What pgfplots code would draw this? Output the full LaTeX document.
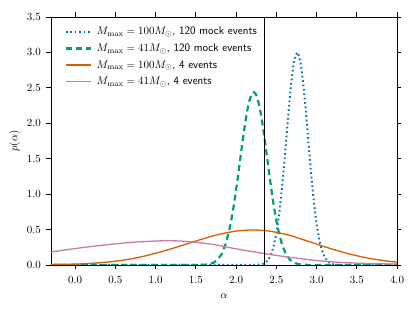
\documentclass[border=0pt]{standalone}
\usepackage{pgfplots}
\pgfplotsset{compat=1.18}
\definecolor{cbblue}{HTML}{0072B2}
\definecolor{cbgreen}{HTML}{009E73}
\definecolor{cborange}{HTML}{D55E00}
\definecolor{cbpink}{HTML}{CC79A7}
\newcommand{\fs}{\fontsize{11.3}{13.5}\selectfont}
\begin{document}
\begin{tikzpicture}
\begin{axis}[
  scale only axis,
  width=346pt, height=248pt,
  xmin=-0.3, xmax=4.0, ymin=0, ymax=3.5,
  xtick={0,0.5,...,4.0},
  ytick={0,0.5,...,3.5},
  xticklabel style={font=\fs, yshift=-3pt, /pgf/number format/.cd,fixed,fixed zerofill,precision=1},
  yticklabel style={font=\fs, xshift=-2pt, /pgf/number format/.cd,fixed,fixed zerofill,precision=1},
  tick align=outside,
  major tick length=4.5pt,
  xtick pos=both, ytick pos=both,
  tick style={black, line width=0.8pt},
  axis line style={line width=0.9pt},
  xlabel={$\alpha$}, ylabel={$p(\alpha)$},
  label style={font=\fs},
  xlabel style={yshift=-4pt},
  ylabel style={yshift=0pt},
  legend style={at={(axis description cs:0.031,0.975)}, anchor=north west,
    draw=none, fill=none, font=\fs, row sep=4.5pt, column sep=2pt,
    nodes={inner sep=1.5pt}},
  legend cell align=left,
  legend image code/.code={\draw[#1] (0pt,0pt) -- (25pt,0pt); \path (26pt,0pt);},
]
\addplot[cbblue, line width=2pt, dash pattern=on 1.6pt off 2.8pt] coordinates {
(-0.3,0) (2.0,0) (2.2,0.0004) (2.26,0.0026) (2.31,0.0098) (2.335,0.018) (2.36,0.0326)
(2.385,0.056) (2.41,0.094) (2.435,0.152) (2.46,0.236) (2.485,0.354) (2.51,0.513)
(2.535,0.717) (2.56,0.968) (2.585,1.262) (2.61,1.589) (2.635,1.929) (2.66,2.261)
(2.685,2.559) (2.71,2.795) (2.735,2.948) (2.76,3.0) (2.785,2.948) (2.81,2.795)
(2.835,2.559) (2.86,2.261) (2.885,1.929) (2.91,1.589) (2.935,1.262) (2.96,0.968)
(2.985,0.717) (3.01,0.513) (3.035,0.354) (3.06,0.236) (3.085,0.152) (3.11,0.094)
(3.135,0.056) (3.16,0.0326) (3.185,0.018) (3.21,0.0098) (3.26,0.0026) (3.32,0.0004)
(3.5,0) (4.0,0)};
\addlegendentry{$M_{\rm max}=100M_{\odot}$\textsf{, 120 mock events}}
\addplot[cbgreen, line width=2.2pt, dash pattern=on 6pt off 4pt] coordinates {
(-0.3,0) (1.3,0) (1.52,0.0005) (1.62,0.0048) (1.67,0.013) (1.72,0.0323) (1.77,0.0735)
(1.82,0.153) (1.87,0.293) (1.92,0.514) (1.945,0.660) (1.97,0.827) (1.995,1.016)
(2.02,1.221) (2.045,1.436) (2.07,1.653) (2.095,1.862) (2.12,2.052) (2.145,2.214)
(2.17,2.337) (2.195,2.414) (2.22,2.44) (2.245,2.414) (2.27,2.337) (2.295,2.214)
(2.32,2.052) (2.345,1.862) (2.37,1.653) (2.395,1.436) (2.42,1.221) (2.445,1.016)
(2.47,0.827) (2.495,0.660) (2.52,0.514) (2.57,0.293) (2.62,0.153) (2.67,0.0735)
(2.72,0.0323) (2.77,0.013) (2.82,0.0048) (2.92,0.0005) (3.2,0) (4.0,0)};
\addlegendentry{$M_{\rm max}=41M_{\odot}$\textsf{, 120 mock events}}
\addplot[cborange, line width=1.3pt, smooth] coordinates {
(-0.3,0.008) (0.0,0.013) (0.25,0.027) (0.5,0.053) (0.75,0.098) (1.0,0.165)
(1.25,0.248) (1.5,0.338) (1.75,0.422) (2.0,0.478) (2.2,0.494) (2.4,0.480)
(2.65,0.423) (2.9,0.333) (3.15,0.240) (3.4,0.158) (3.65,0.095) (3.9,0.052) (4.0,0.039)};
\addlegendentry{$M_{\rm max}=100M_{\odot}$\textsf{, 4 events}}
\addplot[cbpink, line width=1.3pt, smooth] coordinates {
(-0.3,0.183) (0.0,0.232) (0.25,0.268) (0.5,0.298) (0.75,0.323) (1.0,0.338)
(1.15,0.342) (1.3,0.338) (1.5,0.320) (1.75,0.284) (2.0,0.228) (2.25,0.180)
(2.5,0.135) (2.75,0.097) (3.0,0.063) (3.25,0.040) (3.5,0.026) (3.75,0.018) (4.0,0.013)};
\addlegendentry{$M_{\rm max}=41M_{\odot}$\textsf{, 4 events}}
\addplot[black, line width=1.2pt, forget plot] coordinates {(2.35,0) (2.35,3.5)};
\end{axis}
\path (current axis.south west) ++(-51pt,-47pt) coordinate (bbA);
\path (current axis.north east) ++(18pt,17pt) coordinate (bbB);
\path[use as bounding box] (bbA) rectangle (bbB);
\end{tikzpicture}
\end{document}
